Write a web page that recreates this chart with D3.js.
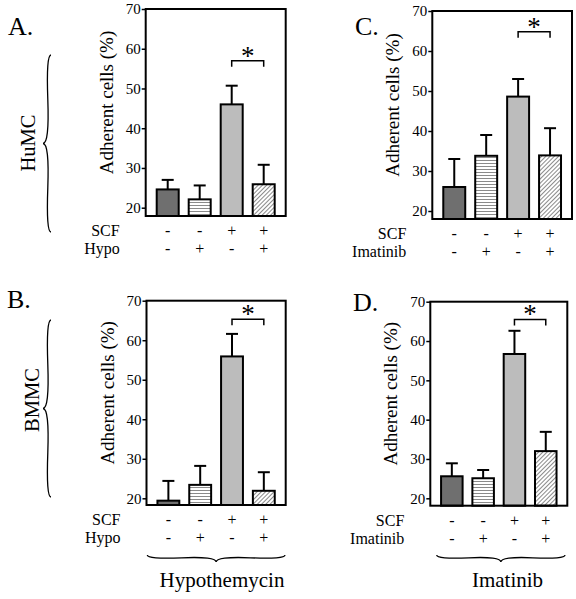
<!DOCTYPE html>
<html>
<head>
<meta charset="utf-8">
<script src="https://cdn.jsdelivr.net/npm/d3@7"></script>
<style>
  html, body { margin: 0; padding: 0; background: #fff; }
  svg { display: block; }
  text { font-family: "Liberation Serif", "Times New Roman", serif; fill: #000; }
</style>
</head>
<body>
<svg id="chart" width="576" height="599" font-family="Liberation Serif, serif"></svg>
<script>
// ---------------- data ----------------
const groups   = ["g1", "g2", "g3", "g4"];
const scfRow   = ["-", "-", "+", "+"];
const inhRow   = ["-", "+", "-", "+"];
const yTicks   = [20, 30, 40, 50, 60, 70];

const meansA = [24.6, 22.1, 46.0, 25.9];
const errA   = [2.4, 3.5, 4.7, 4.9];
const meansB = [19.4, 23.4, 55.9, 21.9];
const errB   = [5.0, 4.8, 5.7, 4.7];
const meansC = [26.0, 33.8, 48.6, 33.9];
const errC   = [7.0, 5.2, 4.4, 6.8];
const meansD = [25.6, 25.1, 56.7, 32.0];
const errD   = [3.3, 2.1, 5.9, 4.9];
const sigA = 57.0, sigB = 65.3, sigC = 64.8, sigD = 65.5;

const yTitle = "Adherent cells (%)";

// ---------------- layout ----------------
const panels = [
  { letter: "A.", means: meansA, err: errA, sig: sigA, inh: "Hypo",
    x0: 145.7, x1: 285.7, y70: 9, y20: 207.7, bottom: 216, lx: 8, ly: 35 },
  { letter: "B.", means: meansB, err: errB, sig: sigB, inh: "Hypo",
    x0: 146.5, x1: 285.7, y70: 300.7, y20: 498.3, bottom: 505, lx: 7, ly: 308 },
  { letter: "C.", means: meansC, err: errC, sig: sigC, inh: "Imatinib",
    x0: 432.3, x1: 572, y70: 11, y20: 211, bottom: 219, lx: 355, ly: 35 },
  { letter: "D.", means: meansD, err: errD, sig: sigD, inh: "Imatinib",
    x0: 430.3, x1: 567.3, y70: 301.7, y20: 498.3, bottom: 505.7, lx: 353, ly: 311 }
];
const fills = ["#6f6f6f", "url(#hstripe)", "#bcbcbc", "url(#diag)"];

const svg = d3.select("#chart");

// patterns
const defs = svg.append("defs");
const hp = defs.append("pattern").attr("id", "hstripe").attr("patternUnits", "userSpaceOnUse")
  .attr("width", 6).attr("height", 3);
hp.append("rect").attr("width", 6).attr("height", 3).attr("fill", "#fff");
hp.append("line").attr("x1", 0).attr("x2", 6).attr("y1", 1.5).attr("y2", 1.5)
  .attr("stroke", "#8a8a8a").attr("stroke-width", 1);
const dp = defs.append("pattern").attr("id", "diag").attr("patternUnits", "userSpaceOnUse")
  .attr("width", 3).attr("height", 6).attr("patternTransform", "rotate(45)");
dp.append("rect").attr("width", 3).attr("height", 6).attr("fill", "#fff");
dp.append("line").attr("x1", 1.5).attr("x2", 1.5).attr("y1", 0).attr("y2", 6)
  .attr("stroke", "#8a8a8a").attr("stroke-width", 1);

function brace(x1, y1, x2, y2, w, q) {
  let dx = x1 - x2, dy = y1 - y2;
  const len = Math.sqrt(dx * dx + dy * dy);
  dx /= len; dy /= len;
  const qx1 = x1 + q * w * dy, qy1 = y1 - q * w * dx;
  const qx2 = (x1 - .25 * len * dx) + (1 - q) * w * dy, qy2 = (y1 - .25 * len * dy) - (1 - q) * w * dx;
  const tx1 = (x1 - .5 * len * dx) + w * dy, ty1 = (y1 - .5 * len * dy) - w * dx;
  const qx3 = x2 + q * w * dy, qy3 = y2 - q * w * dx;
  const qx4 = (x1 - .75 * len * dx) + (1 - q) * w * dy, qy4 = (y1 - .75 * len * dy) - (1 - q) * w * dx;
  return `M${x1},${y1}Q${qx1},${qy1} ${qx2},${qy2}T${tx1},${ty1}M${x2},${y2}Q${qx3},${qy3} ${qx4},${qy4}T${tx1},${ty1}`;
}

panels.forEach(p => {
  const g = svg.append("g");
  const y = d3.scaleLinear().domain([20, 70]).range([p.y20, p.y70]);
  const x = d3.scaleBand().domain(groups).range([p.x0, p.x1])
    .paddingInner(0.3125).paddingOuter(0.344);

  // y axis
  const ax = g.append("g").attr("transform", `translate(${p.x0},0)`)
    .call(d3.axisLeft(y).tickValues(yTicks).tickSize(4).tickPadding(1));
  ax.attr("font-family", "Liberation Serif, serif").attr("font-size", 15);
  ax.select(".domain").remove();
  ax.selectAll(".tick line").attr("stroke", "#000").attr("stroke-width", 1.5);
  ax.selectAll(".tick text").attr("font-size", 15).attr("fill", "#000");

  // bars
  g.selectAll("rect.bar").data(p.means).enter().append("rect")
    .attr("x", (d, i) => x(groups[i]))
    .attr("width", x.bandwidth())
    .attr("y", d => y(d))
    .attr("height", d => p.bottom - y(d))
    .attr("fill", (d, i) => fills[i])
    .attr("stroke", "#000").attr("stroke-width", 2);

  // error bars
  const cx = i => x(groups[i]) + x.bandwidth() / 2;
  p.means.forEach((m, i) => {
    g.append("line").attr("x1", cx(i)).attr("x2", cx(i))
      .attr("y1", y(m)).attr("y2", y(m + p.err[i]))
      .attr("stroke", "#000").attr("stroke-width", 2);
    g.append("line").attr("x1", cx(i) - 6).attr("x2", cx(i) + 6)
      .attr("y1", y(m + p.err[i])).attr("y2", y(m + p.err[i]))
      .attr("stroke", "#000").attr("stroke-width", 2);
  });

  // frame
  g.append("rect").attr("x", p.x0).attr("y", p.y70)
    .attr("width", p.x1 - p.x0).attr("height", p.bottom - p.y70)
    .attr("fill", "none").attr("stroke", "#000").attr("stroke-width", 2);

  // significance bracket
  const by = y(p.sig);
  g.append("path")
    .attr("d", `M${cx(2)},${by + 6}V${by}H${cx(3)}V${by + 6}`)
    .attr("fill", "none").attr("stroke", "#000").attr("stroke-width", 1.5);
  g.append("text").attr("x", (cx(2) + cx(3)) / 2).attr("y", by + 4)
    .attr("text-anchor", "middle").attr("font-size", 27).text("*");

  // y title
  g.append("text")
    .attr("transform", `translate(${p.x0 - 33},${(p.y70 + p.bottom) / 2 - 10}) rotate(-90)`)
    .attr("text-anchor", "middle").attr("font-size", 19).text(yTitle);

  // condition rows
  const r1 = p.bottom + 20, r2 = p.bottom + 38;
  g.append("text").attr("x", p.x0 - 26).attr("y", r1).attr("text-anchor", "end")
    .attr("font-size", 16).text("SCF");
  g.append("text").attr("x", p.x0 - 26).attr("y", r2).attr("text-anchor", "end")
    .attr("font-size", 16).text(p.inh);
  scfRow.forEach((s, i) => {
    g.append("text").attr("x", cx(i)).attr("y", r1).attr("text-anchor", "middle")
      .attr("font-size", 16).text(s);
  });
  inhRow.forEach((s, i) => {
    g.append("text").attr("x", cx(i)).attr("y", r2).attr("text-anchor", "middle")
      .attr("font-size", 16).text(s);
  });

  // panel letter
  g.append("text").attr("x", p.lx).attr("y", p.ly).attr("font-size", 26).text(p.letter);
});

// side braces and labels
const sideLabels = [
  { text: "HuMC", x: 35, y: 143, top: 55, bot: 232 },
  { text: "BMMC", x: 39, y: 400, top: 320, bot: 497 }
];
sideLabels.forEach(s => {
  svg.append("path").attr("d", brace(51, s.top, 51, s.bot, 8, 0.6))
    .attr("fill", "none").attr("stroke", "#000").attr("stroke-width", 1.3);
  svg.append("text").attr("transform", `translate(${s.x},${s.y}) rotate(-90)`)
    .attr("text-anchor", "middle").attr("font-size", 20.5).text(s.text);
});

const bottomLabels = [
  { text: "Hypothemycin", x1: 147.3, x2: 285, cx: 222 },
  { text: "Imatinib", x1: 436.7, x2: 565, cx: 507.5 }
];
bottomLabels.forEach(b => {
  svg.append("path").attr("d", brace(b.x1, 555, b.x2, 555, 7, 0.6))
    .attr("fill", "none").attr("stroke", "#000").attr("stroke-width", 1.3);
  svg.append("text").attr("x", b.cx).attr("y", 587).attr("text-anchor", "middle")
    .attr("font-size", 21).text(b.text);
});
</script>
</body>
</html>
